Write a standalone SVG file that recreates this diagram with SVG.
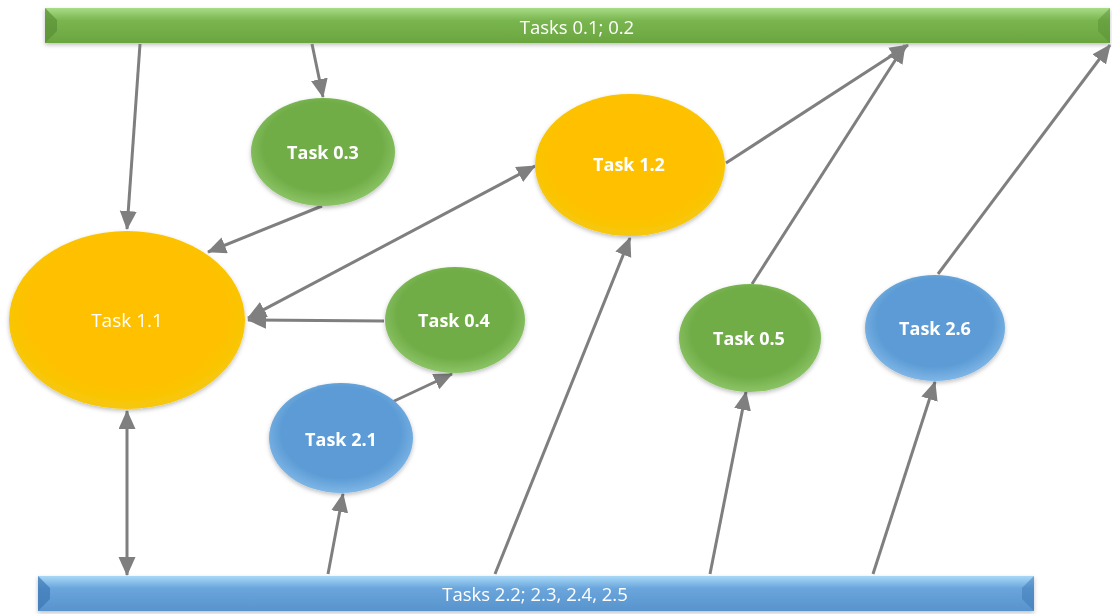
<svg xmlns="http://www.w3.org/2000/svg" width="1112" height="614" viewBox="0 0 1112 614">
<style>
.lbl{font-family:"Open Sans","Liberation Sans",sans-serif;fill:#fff;text-anchor:middle;dominant-baseline:central}
.b{font-weight:bold;font-size:18px}
.r{font-size:19px}
.bar{font-size:18.5px}
.con{stroke:#7f7f7f;stroke-width:3;fill:none;marker-end:url(#ah)}
.both{marker-start:url(#ah)}
</style>
<defs>
<marker id="ah" markerUnits="userSpaceOnUse" markerWidth="20" markerHeight="18" refX="18" refY="8.5" orient="auto-start-reverse" viewBox="0 0 20 18">
<path d="M0,0 L19,8.5 L0,17 z" fill="#7f7f7f"/>
</marker>
<radialGradient id="gG" cx="0.5" cy="0.45" r="0.55">
<stop offset="0.75" stop-color="#70ad47"/><stop offset="1" stop-color="#8cc466"/>
</radialGradient>
<radialGradient id="gY" cx="0.5" cy="0.45" r="0.55">
<stop offset="0.75" stop-color="#ffc000"/><stop offset="1" stop-color="#f5c80a"/>
</radialGradient>
<radialGradient id="gB" cx="0.5" cy="0.45" r="0.55">
<stop offset="0.75" stop-color="#5b9bd5"/><stop offset="1" stop-color="#7fb6e6"/>
</radialGradient>
<linearGradient id="barG" x1="0" y1="0" x2="0" y2="1">
<stop offset="0" stop-color="#a9dc86"/><stop offset="0.35" stop-color="#7ab650"/><stop offset="1" stop-color="#6aa53f"/>
</linearGradient>
<linearGradient id="barB" x1="0" y1="0" x2="0" y2="1">
<stop offset="0" stop-color="#a8d8f7"/><stop offset="0.35" stop-color="#6aa6dc"/><stop offset="1" stop-color="#5893cd"/>
</linearGradient>
<filter id="sh" x="-10%" y="-10%" width="120%" height="130%">
<feDropShadow dx="0" dy="2" stdDeviation="2" flood-color="#000" flood-opacity="0.25"/>
</filter>
</defs>
<rect width="1112" height="614" fill="#fff"/>

<g id="bar-top" filter="url(#sh)">
<rect x="45" y="8" width="1065" height="35" fill="url(#barG)"/>
<polygon points="45,8 57,20 57,31 45,43" fill="#5a9035" opacity="0.7"/>
<polygon points="1110,8 1098,20 1098,31 1110,43" fill="#5a9035" opacity="0.5"/>
<text class="lbl bar" x="577" y="26">Tasks 0.1; 0.2</text>
</g>
<g id="bar-bottom" filter="url(#sh)">
<rect x="38" y="576" width="996" height="35" fill="url(#barB)"/>
<polygon points="38,576 50,588 50,599 38,611" fill="#3d78b5" opacity="0.7"/>
<polygon points="1034,576 1022,588 1022,599 1034,611" fill="#3d78b5" opacity="0.5"/>
<text class="lbl bar" x="535" y="593">Tasks 2.2; 2.3, 2.4, 2.5</text>
</g>

<g id="connectors">
<line class="con" x1="140" y1="44" x2="127" y2="229"/>
<line class="con" x1="312" y1="44" x2="323" y2="97"/>
<line class="con" x1="322" y1="206" x2="208" y2="252"/>
<line class="con both" x1="248" y1="318" x2="535" y2="166"/>
<line class="con" x1="384" y1="321" x2="248" y2="320"/>
<line class="con" x1="390" y1="403" x2="452" y2="374"/>
<line class="con both" x1="127" y1="411" x2="127" y2="575"/>
<line class="con" x1="328" y1="574" x2="343" y2="494"/>
<line class="con" x1="495" y1="574" x2="630" y2="238"/>
<line class="con" x1="726" y1="163" x2="908" y2="45"/>
<line class="con" x1="752" y1="284" x2="905" y2="45"/>
<line class="con" x1="710" y1="574" x2="746" y2="392"/>
<line class="con" x1="938" y1="274" x2="1110" y2="45"/>
<line class="con" x1="873" y1="574" x2="935" y2="382"/>
</g>

<g id="task11" filter="url(#sh)">
<ellipse cx="127" cy="320" rx="118" ry="89" fill="url(#gY)"/>
<text class="lbl r" x="127" y="320">Task 1.1</text>
</g>
<g id="task03" filter="url(#sh)">
<ellipse cx="323" cy="152" rx="72" ry="54" fill="url(#gG)"/>
<text class="lbl b" x="323" y="152">Task 0.3</text>
</g>
<g id="task12" filter="url(#sh)">
<ellipse cx="630" cy="165" rx="95" ry="71" fill="url(#gY)"/>
<text class="lbl b" x="629" y="164">Task 1.2</text>
</g>
<g id="task04" filter="url(#sh)">
<ellipse cx="455" cy="320" rx="70" ry="53" fill="url(#gG)"/>
<text class="lbl b" x="454" y="320">Task 0.4</text>
</g>
<g id="task21" filter="url(#sh)">
<ellipse cx="341" cy="438" rx="72" ry="55" fill="url(#gB)"/>
<text class="lbl b" x="341" y="439">Task 2.1</text>
</g>
<g id="task05" filter="url(#sh)">
<ellipse cx="750" cy="338" rx="71" ry="54" fill="url(#gG)"/>
<text class="lbl b" x="749" y="338">Task 0.5</text>
</g>
<g id="task26" filter="url(#sh)">
<ellipse cx="935" cy="328" rx="70" ry="53" fill="url(#gB)"/>
<text class="lbl b" x="935" y="328">Task 2.6</text>
</g>
</svg>
